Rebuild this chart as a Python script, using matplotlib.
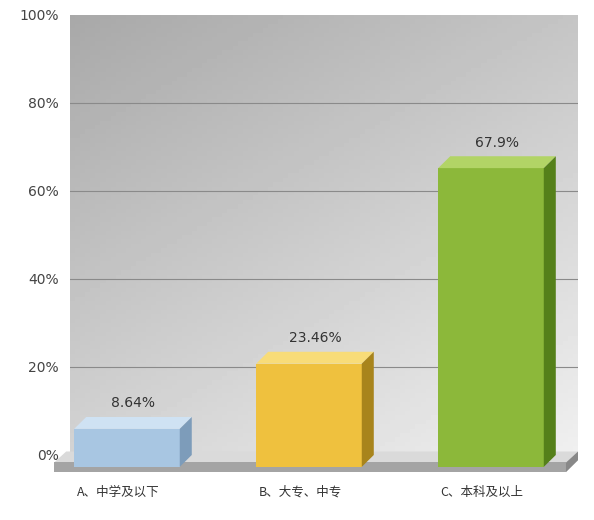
import matplotlib.pyplot as plt
import numpy as np
from matplotlib.patches import Polygon

plt.rcParams['font.family'] = ['DejaVu Sans', 'Noto Sans CJK SC']

categories = ['A、中学及以下', 'B、大专、中专', 'C、本科及以上']
values = [8.64, 23.46, 67.9]
value_labels = ['8.64%', '23.46%', '67.9%']
yticks = [0, 20, 40, 60, 80, 100]

front_colors = ['#a8c6e2', '#efc13e', '#8cb83a']
top_colors = ['#cfe2f3', '#f8dc78', '#b2d466']
side_colors = ['#7d9cba', '#a8841c', '#55801a']

fig = plt.figure(figsize=(5.94, 5.2), dpi=100)
ax = fig.add_axes([70 / 594, 1 - 455 / 520, 508 / 594, 440 / 520])
xl, xr = -0.313, 2.478

# background gradient (dark top-left, light bottom-right)
yy, xx = np.mgrid[0:1:100j, 0:1:100j]
grad = 0.66 + 0.28 * (0.6 * yy + 0.4 * xx)
ax.imshow(grad, cmap='gray', vmin=0, vmax=1, extent=[xl, xr, 0, 100],
          aspect='auto', zorder=0, origin='upper')
ax.set_xlim(xl, xr)
ax.set_ylim(0, 100)

for t in yticks[1:-1]:
    ax.axhline(t, color='#8a8a8a', lw=0.8, zorder=1)

for s in ax.spines.values():
    s.set_visible(False)
ax.set_xticks([])
ax.set_yticks(yticks)
ax.set_yticklabels([f'{t}%' for t in yticks], fontsize=10, color='#444444')
ax.tick_params(axis='y', length=0, pad=8)

w = 0.58
dx, dy = 0.066, 2.7
base = -dy

# floor slab
x0, x1 = -0.40, xr - dx
ft = base + 1.0
ax.add_patch(Polygon([(x0, ft), (x1, ft), (x1 + dx, 0.8), (x0 + dx, 0.8)],
                     closed=True, fc='#dadada', ec='none', zorder=2, clip_on=False))
ax.add_patch(Polygon([(x0, ft - 2.2), (x1, ft - 2.2), (x1, ft), (x0, ft)],
                     closed=True, fc='#a4a4a4', ec='none', zorder=2, clip_on=False))
ax.add_patch(Polygon([(x1, ft - 2.2), (x1 + dx, -1.2), (x1 + dx, 0.8), (x1, ft)],
                     closed=True, fc='#888888', ec='none', zorder=2, clip_on=False))

for i, v in enumerate(values):
    l, r = i - w / 2, i + w / 2
    h = base + v
    ax.bar(i, v, width=w, bottom=base, color=front_colors[i], zorder=4, clip_on=False)
    ax.add_patch(Polygon([(l, h), (r, h), (r + dx, h + dy), (l + dx, h + dy)],
                         closed=True, fc=top_colors[i], ec='none', zorder=4))
    ax.add_patch(Polygon([(r, base), (r + dx, 0), (r + dx, h + dy), (r, h)],
                         closed=True, fc=side_colors[i], ec='none', zorder=4, clip_on=False))
    ax.text(i + dx / 2, h + dy + 1.5, value_labels[i], ha='center', va='bottom',
            fontsize=10, color='#333333', zorder=5)
    ax.text(i - 0.05, -8.5, categories[i], ha='center', va='center', fontsize=9,
            color='#333333', clip_on=False,
            family=['Noto Sans CJK SC', 'DejaVu Sans'])

fig.savefig('out.png', dpi=100, facecolor='white')
